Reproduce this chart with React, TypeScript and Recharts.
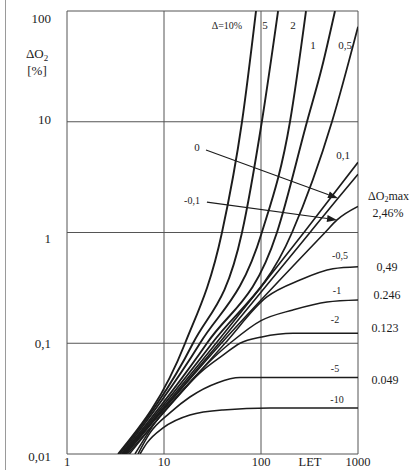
import React from 'react';
import { LineChart, Line, XAxis, YAxis, CartesianGrid, ReferenceLine } from 'recharts';

// [LET, ΔO2 %], labelled by Δ
const c10: [number, number][] = [[3.36, 0.01], [16.5, 0.1], [39.6, 1], [63.7, 10], [88.8, 100]];
const c5: [number, number][] = [[3.5, 0.01], [19.9, 0.1], [63.7, 1], [102, 10], [150, 100]];
const c2: [number, number][] = [[3.65, 0.01], [23.5, 0.1], [102, 1], [199, 10], [291, 100]];
const c1: [number, number][] = [[3.75, 0.01], [27.7, 0.1], [146, 1], [298, 10], [425, 31], [579, 100]];
const c05: [number, number][] = [[3.85, 0.01], [31.3, 0.1], [209, 1], [539, 10], [1000, 72]];
const c01: [number, number][] = [[3.95, 0.01], [34.4, 0.1], [277, 1], [1000, 4.3]];
const c0: [number, number][] = [[4.0, 0.01], [36.9, 0.1], [320, 1], [622, 2.04], [1000, 3.35]];
const cm01: [number, number][] = [[4.05, 0.01], [39, 0.1], [457, 1], [608, 1.3], [1000, 1.72]];
const cm05: [number, number][] = [[4.2, 0.01], [42.6, 0.1], [115, 0.262], [252, 0.372], [552, 0.47], [1000, 0.49]];
const cm1: [number, number][] = [[4.4, 0.01], [47.9, 0.1], [100, 0.16], [214, 0.2], [479, 0.236], [1000, 0.246]];
const cm2: [number, number][] = [[5.02, 0.01], [8.47, 0.0203], [13.6, 0.0327], [23.5, 0.054], [40.6, 0.078], [60.8, 0.1], [102, 0.114], [214, 0.123], [1000, 0.123]];
const cm5: [number, number][] = [[5.39, 0.01], [7.17, 0.0155], [11.5, 0.0235], [18.5, 0.0327], [35.2, 0.0438], [60.8, 0.049], [1000, 0.049]];
const cm10: [number, number][] = [[5.66, 0.01], [6.68, 0.0126], [9.77, 0.0172], [18.5, 0.0225], [40.6, 0.025], [124, 0.026], [1000, 0.026]];

const curves = [
  { key: '10', pts: c10, w: 1.9 },
  { key: '5', pts: c5, w: 1.9 },
  { key: '2', pts: c2, w: 1.9 },
  { key: '1', pts: c1, w: 1.9 },
  { key: '0.5', pts: c05, w: 1.8 },
  { key: '0.1', pts: c01, w: 1.6 },
  { key: '0', pts: c0, w: 1.6 },
  { key: '-0.1', pts: cm01, w: 1.6 },
  { key: '-0.5', pts: cm05, w: 1.5 },
  { key: '-1', pts: cm1, w: 1.5 },
  { key: '-2', pts: cm2, w: 1.5 },
  { key: '-5', pts: cm5, w: 1.6 },
  { key: '-10', pts: cm10, w: 1.6 },
];

const xTicks = [1, 10, 100, 1000];
const yTicks = [0.01, 0.1, 1, 10, 100];
const yTickLabels = ['0,01', '0,1', '1', '10', '100'];
const yTickShift = [2, 0, 6, -2, 7];

// leader lines for the "0" and "-0,1" labels
const lead0 = [{ x: 27.1, y: 5.56 }, { x: 622, y: 2.04 }];
const leadM01 = [{ x: 27.7, y: 1.88 }, { x: 608, y: 1.3 }];

const curveLabels = [
  { t: 'Δ=10%', x: 227, y: 25, s: 10 },
  { t: '5', x: 265, y: 25, s: 11 },
  { t: '2', x: 293, y: 25, s: 11 },
  { t: '1', x: 313, y: 45, s: 11 },
  { t: '0,5', x: 345, y: 45, s: 11 },
  { t: '0,1', x: 343, y: 155, s: 11 },
  { t: '0', x: 197, y: 147, s: 11 },
  { t: '-0,1', x: 192, y: 200, s: 10 },
  { t: '-0,5', x: 340, y: 255, s: 10 },
  { t: '-1', x: 337, y: 290, s: 10 },
  { t: '-2', x: 335, y: 319, s: 10 },
  { t: '-5', x: 335, y: 368, s: 10 },
  { t: '-10', x: 337, y: 399, s: 10 },
];

const maxLabels = [
  { t: '2,46%', x: 388, y: 213 },
  { t: '0,49', x: 387, y: 267 },
  { t: '0.246', x: 387, y: 295 },
  { t: '0.123', x: 385, y: 328 },
  { t: '0.049', x: 385, y: 380 },
];

const font = '"Liberation Serif", "DejaVu Serif", serif';
const ink = '#1c1c1c';

const YTick = (p: any) => {
  const i = yTicks.indexOf(p.payload.value);
  return (
    <text x={p.x} y={p.y + (yTickShift[i] || 0)} dy="0.35em" textAnchor="end" fontSize={13} fontFamily={font} fill={ink}>
      {yTickLabels[i]}
    </text>
  );
};

const XTick = (p: any) => (
  <text x={p.x} y={p.y + 12} textAnchor="middle" fontSize={12.5} fontFamily={font} fill={ink}>
    {p.payload.value}
  </text>
);

const Arrow = (p: any) => {
  const { x1, y1, x2, y2 } = p;
  const a = Math.atan2(y2 - y1, x2 - x1);
  const L = 10;
  const W = 3.5;
  const bx = x2 - L * Math.cos(a);
  const by = y2 - L * Math.sin(a);
  const tri = `${x2},${y2} ${bx - W * Math.sin(a)},${by + W * Math.cos(a)} ${bx + W * Math.sin(a)},${by - W * Math.cos(a)}`;
  return (
    <g>
      <line x1={x1} y1={y1} x2={bx} y2={by} stroke={ink} strokeWidth={1.1} />
      <polygon points={tri} fill={ink} />
    </g>
  );
};

export default function App() {
  return (
    <div style={{ position: 'absolute', left: 0, top: 0, width: 411, height: 470, background: '#fff', overflow: 'hidden' }}>
      <div style={{ position: 'absolute', left: 5, top: 0, width: 1, height: 470, background: '#9a9a9a' }} />
      <LineChart width={411} height={470} margin={{ top: 11, right: 53, bottom: 0, left: 0 }}>
        <CartesianGrid stroke="#555" strokeWidth={1} />
        <XAxis
          type="number"
          dataKey="x"
          scale="log"
          domain={[1, 1000]}
          ticks={xTicks}
          allowDataOverflow
          height={16}
          tickSize={0}
          tickMargin={0}
          axisLine={false}
          tickLine={false}
          tick={<XTick />}
        />
        <YAxis
          type="number"
          scale="log"
          domain={[0.01, 100]}
          ticks={yTicks}
          allowDataOverflow
          width={67}
          tickSize={0}
          tickMargin={16}
          axisLine={false}
          tickLine={false}
          tick={<YTick />}
        />
        {curves.map((c) => (
          <Line
            key={c.key}
            data={c.pts.map(([x, y]) => ({ x, y }))}
            dataKey="y"
            type="monotone"
            stroke={ink}
            strokeWidth={c.w}
            dot={false}
            activeDot={false}
            isAnimationActive={false}
          />
        ))}
        <ReferenceLine segment={lead0} shape={Arrow} />
        <ReferenceLine segment={leadM01} shape={Arrow} />
      </LineChart>
      <svg width={411} height={470} style={{ position: 'absolute', left: 0, top: 0, pointerEvents: 'none' }}>
        <text x={37} y={53} dy="0.35em" textAnchor="middle" fontSize={13} fontFamily={font} fill={ink}>
          ΔO<tspan fontSize={9} dy={3}>2</tspan>
        </text>
        <text x={37} y={70} dy="0.35em" textAnchor="middle" fontSize={13} fontFamily={font} fill={ink}>[%]</text>
        <text x={310} y={466} textAnchor="middle" fontSize={12.5} fontFamily={font} fill={ink}>LET</text>
        {curveLabels.map((l) => (
          <text key={l.t} x={l.x} y={l.y} dy="0.35em" textAnchor="middle" fontSize={l.s} fontFamily={font} fill={ink}>
            {l.t}
          </text>
        ))}
        <text x={368} y={196} dy="0.35em" fontSize={12} fontFamily={font} fill={ink}>
          ΔO<tspan fontSize={8} dy={2}>2</tspan><tspan dy={-2}>max</tspan>
        </text>
        {maxLabels.map((l) => (
          <text key={l.t} x={l.x} y={l.y} dy="0.35em" textAnchor="middle" fontSize={12} fontFamily={font} fill={ink}>
            {l.t}
          </text>
        ))}
      </svg>
    </div>
  );
}
